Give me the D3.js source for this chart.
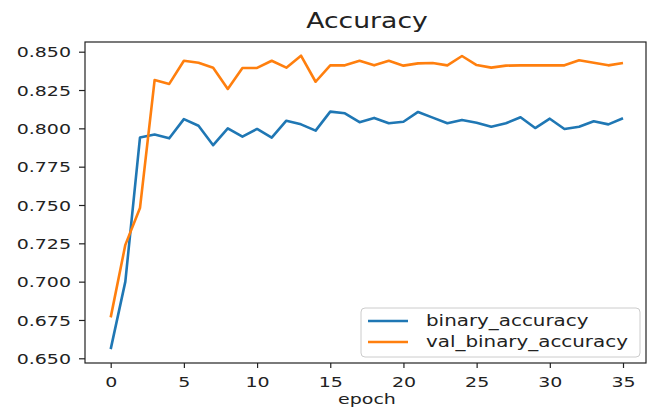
<html>
<head>
<style>
  body { margin: 0; background: #fff; }
  text { font-family: "DejaVu Sans", sans-serif; fill: #222; }
</style>
</head>
<body>
<svg id="chart" width="649" height="407"></svg>
<script src="https://cdn.jsdelivr.net/npm/d3@7"></script>
<script>
// values
let epochs = d3.range(0, 36)
let binaryAccuracy = [0.656, 0.700, 0.794, 0.796, 0.7935, 0.806, 0.8017, 0.789, 0.800, 0.7946,
    0.7996, 0.794, 0.805, 0.8026, 0.7985, 0.8109, 0.8098, 0.804, 0.8068, 0.8033,
    0.8043, 0.8107, 0.807, 0.8033, 0.8055, 0.8037, 0.801, 0.8033, 0.8072, 0.8002,
    0.8063, 0.7996, 0.801, 0.8046, 0.8026, 0.8066]
let valBinaryAccuracy = [0.6767, 0.724, 0.748, 0.8315, 0.829, 0.8441, 0.8428, 0.8396, 0.8257, 0.8394,
    0.8394, 0.8441, 0.8396, 0.8474, 0.8304, 0.8411, 0.8411, 0.8441, 0.8411, 0.8441,
    0.8409, 0.8424, 0.8426, 0.8411, 0.8472, 0.8413, 0.8396, 0.8409, 0.8411, 0.8411,
    0.8411, 0.8411, 0.8444, 0.8428, 0.8411, 0.8426]
let xTicks = [0, 5, 10, 15, 20, 25, 30, 35]
let yTicks = [0.650, 0.675, 0.700, 0.725, 0.750, 0.775, 0.800, 0.825, 0.850]
let seriesNames = ["binary_accuracy", "val_binary_accuracy"]
let colors = ["#1f77b4", "#ff7f0e"]

// the picture is stretched sideways, so text gets squeezed the same way
let sx = 1.3
let frame = { left: 85, right: 646, top: 42, bottom: 363 }

let svg = d3.select("#chart")

let x = d3.scaleLinear().domain([0, 35]).range([110.7, 623])
let y = d3.scaleLinear().domain([0.65, 0.85]).range([358.3, 51.7])

// lines
let line = d3.line()
    .x((d, i) => x(epochs[i]))
    .y(d => y(d))

svg.selectAll("path.series")
    .data([binaryAccuracy, valBinaryAccuracy])
    .enter().append("path")
    .attr("class", "series")
    .attr("d", d => line(d))
    .attr("fill", "none")
    .attr("stroke", (d, i) => colors[i])
    .attr("stroke-width", 2.6)
    .attr("stroke-linejoin", "round")

// frame
svg.append("rect")
    .attr("x", frame.left)
    .attr("y", frame.top)
    .attr("width", frame.right - frame.left)
    .attr("height", frame.bottom - frame.top)
    .attr("fill", "none")
    .attr("stroke", "#222")
    .attr("stroke-width", 1.2)

// y axis
let yAxis = svg.append("g")
    .attr("transform", `translate(${frame.left},0)`)
    .call(d3.axisLeft(y).tickValues(yTicks).tickFormat(d3.format(".3f")).tickSize(6))
yAxis.select(".domain").remove()
yAxis.selectAll(".tick line").attr("stroke", "#222").attr("stroke-width", 1.2)
yAxis.selectAll(".tick text")
    .attr("x", 0).attr("dy", "0.36em")
    .attr("transform", `translate(-14,0) scale(${sx},1)`)
    .style("font-size", "14.6px")
    .style("font-family", "DejaVu Sans")
    .attr("fill", "#222")

// x axis
let xAxis = svg.append("g")
    .attr("transform", `translate(0,${frame.bottom})`)
    .call(d3.axisBottom(x).tickValues(xTicks).tickSize(5))
xAxis.select(".domain").remove()
xAxis.selectAll(".tick line").attr("stroke", "#222").attr("stroke-width", 1.2)
xAxis.selectAll(".tick text")
    .attr("y", 0).attr("dy", 0)
    .attr("transform", `translate(0,24) scale(${sx},1)`)
    .style("font-size", "14.6px")
    .style("font-family", "DejaVu Sans")
    .attr("fill", "#222")

// title and axis label
svg.append("text")
    .attr("transform", `translate(367,28) scale(${sx},1)`)
    .attr("text-anchor", "middle")
    .style("font-size", "20.5px")
    .text("Accuracy")

svg.append("text")
    .attr("transform", `translate(367,404) scale(${sx},1)`)
    .attr("text-anchor", "middle")
    .style("font-size", "14.6px")
    .text("epoch")

// legend
let legend = svg.append("g").attr("transform", "translate(361,308)")
legend.append("rect")
    .attr("width", 279).attr("height", 49)
    .attr("rx", 4)
    .attr("fill", "#fff").attr("fill-opacity", 0.8)
    .attr("stroke", "#ccc")

let items = legend.selectAll("g.item")
    .data(seriesNames)
    .enter().append("g")
    .attr("class", "item")
    .attr("transform", (d, i) => `translate(0,${13 + i * 21})`)
items.append("line")
    .attr("x1", 7).attr("x2", 47)
    .attr("stroke", (d, i) => colors[i])
    .attr("stroke-width", 2.6)
items.append("text")
    .attr("transform", `translate(65,5) scale(${sx},1)`)
    .style("font-size", "15.3px")
    .text(d => d)
</script>
</body>
</html>
